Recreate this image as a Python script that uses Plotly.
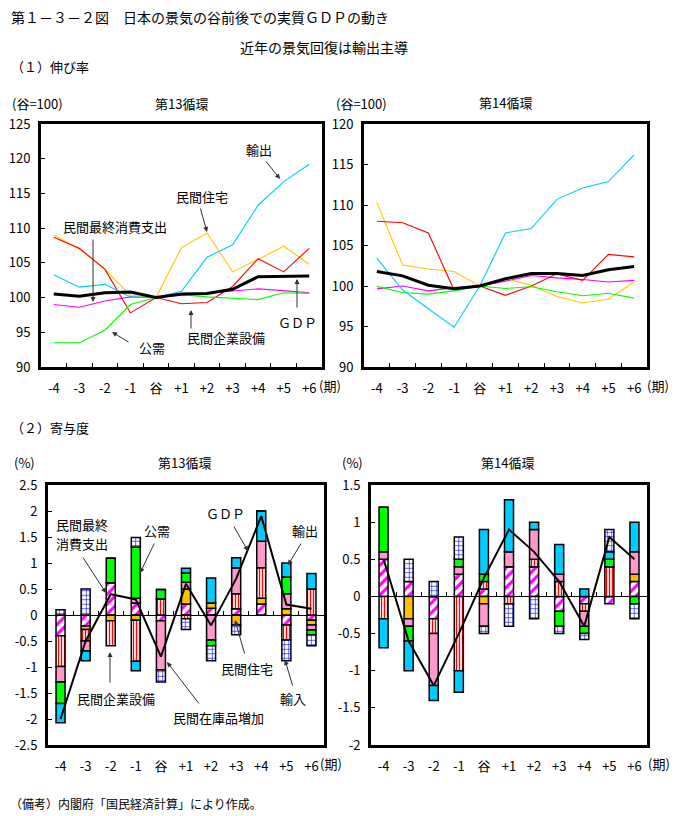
import plotly.graph_objects as go

W, H = 677, 816
OX, OY = 8, 8          # page body margin of the browser
FW, FH = W - OX, H - OY
FONT = "Noto Sans CJK JP"

categories = ["-4", "-3", "-2", "-1", "谷", "+1", "+2", "+3", "+4", "+5", "+6"]

# (1) growth index, trough = 100 -- 13th cycle
gdp13 = [100.5, 100.2, 100.7, 100.8, 100.0, 100.5, 100.6, 101.2, 103.0, 103.0, 103.1]
cons13 = [99.0, 98.6, 99.5, 100.1, 100.0, 100.3, 100.6, 100.9, 101.25, 101.0, 100.7]
hous13 = [109.0, 107.0, 104.1, 100.3, 100.0, 107.2, 109.3, 103.7, 105.5, 107.4, 104.8]
capex13 = [108.7, 107.1, 104.1, 97.8, 100.0, 99.1, 99.3, 101.6, 105.6, 103.7, 107.1]
pub13 = [93.5, 93.5, 95.3, 99.0, 100.0, 100.4, 100.1, 99.9, 99.7, 100.7, 100.6]
exp13 = [103.3, 101.5, 101.9, 100.1, 100.0, 100.9, 105.8, 107.6, 113.3, 116.7, 119.2]

# (1) growth index -- 14th cycle
gdp14 = [101.8, 101.25, 100.1, 99.65, 100.0, 100.9, 101.55, 101.55, 101.3, 102.0, 102.4]
cons14 = [99.65, 100.0, 99.4, 99.8, 100.0, 100.6, 101.3, 101.0, 100.8, 100.5, 100.7]
hous14 = [110.3, 102.6, 102.1, 101.8, 100.0, 100.9, 100.1, 98.7, 97.9, 98.4, 100.5]
capex14 = [108.0, 107.8, 106.55, 99.5, 100.0, 98.85, 100.0, 101.5, 100.7, 103.9, 103.6]
pub14 = [99.95, 99.2, 99.0, 99.4, 100.0, 99.7, 99.9, 99.3, 98.8, 99.1, 98.5]
exp14 = [103.45, 99.5, 97.2, 94.9, 100.0, 106.55, 107.1, 110.7, 112.1, 112.9, 116.2]

# (2) contributions (%) -- 13th cycle
c_cons13 = [-0.40, -0.21, 0.62, 0.23, -0.11, 0.21, 0.13, 0.12, 0.21, -0.19, -0.10]
c_hous13 = [0.0, -0.07, -0.11, -0.10, 0.0, 0.29, 0.10, -0.19, 0.11, 0.12, -0.09]
c_capex13 = [-0.59, -0.22, -0.48, -0.79, 0.31, -0.07, 0.0, 0.29, 0.59, -0.29, 0.50]
c_stock13 = [-0.30, -0.19, 0.0, 0.09, -0.95, 0.13, -0.48, 0.50, 0.51, 0.29, -0.10]
c_pub13 = [-0.41, 0.0, 0.47, 0.99, 0.18, 0.18, -0.11, 0.0, 0.0, 0.32, -0.09]
c_exp13 = [-0.37, -0.19, 0.0, -0.18, 0.0, 0.09, 0.48, 0.19, 0.58, 0.27, 0.30]
c_imp13 = [0.10, 0.50, 0.0, 0.18, -0.23, -0.21, -0.29, -0.19, 0.0, -0.40, -0.21]
c_gdp13 = [-2.0, -0.5, 0.4, 0.3, -0.8, 0.6, -0.2, 0.7, 1.9, 0.2, 0.12]

# (2) contributions (%) -- 14th cycle
c_cons14 = [0.5, 0.2, -0.3, 0.3, 0.1, 0.4, 0.4, -0.2, -0.1, -0.1, 0.2]
c_hous14 = [0.0, -0.3, 0.0, 0.0, -0.1, 0.0, 0.0, 0.0, 0.0, 0.0, 0.1]
c_capex14 = [-0.3, 0.0, -0.2, -1.0, 0.1, -0.1, 0.1, 0.2, -0.1, 0.4, 0.0]
c_stock14 = [0.1, -0.1, -0.7, 0.1, -0.3, 0.2, 0.4, 0.1, -0.2, 0.0, 0.3]
c_pub14 = [0.6, -0.2, 0.0, 0.1, 0.1, 0.0, 0.0, -0.2, -0.1, 0.1, -0.1]
c_exp14 = [-0.39, -0.4, -0.2, -0.29, 0.6, 0.7, 0.1, 0.4, 0.1, 0.1, 0.4]
c_imp14 = [0.0, 0.3, 0.2, 0.3, -0.1, -0.3, -0.3, -0.1, -0.08, 0.3, -0.2]
c_gdp14 = [0.5, -0.6, -1.2, -0.5, 0.25, 0.9, 0.6, 0.2, -0.4, 0.8, 0.5]

ytick13_top = [90, 95, 100, 105, 110, 115, 120, 125]
ytick14_top = [90, 95, 100, 105, 110, 115, 120]
ytick13_bot = [-2.5, -2, -1.5, -1, -0.5, 0, 0.5, 1, 1.5, 2, 2.5]
ytick14_bot = [-2, -1.5, -1, -0.5, 0, 0.5, 1, 1.5]


def lab(v):
    return ("%g" % v)


def px(x):
    return (x - OX) / FW


def py(y):
    return 1 - (y - OY) / FH


fig = go.Figure()

# ---- line charts ----
line_colors = {
    "cons": "#FF00FF", "hous": "#FFC800", "capex": "#FF0000",
    "pub": "#00FF00", "exp": "#00CCFF", "gdp": "#000000",
}
for (xa, ya), series in [
    (("x", "y"), [("民間最終消費支出", cons13, "cons"), ("民間住宅", hous13, "hous"),
                  ("民間企業設備", capex13, "capex"), ("公需", pub13, "pub"),
                  ("輸出", exp13, "exp"), ("GDP", gdp13, "gdp")]),
    (("x2", "y2"), [("民間最終消費支出", cons14, "cons"), ("民間住宅", hous14, "hous"),
                    ("民間企業設備", capex14, "capex"), ("公需", pub14, "pub"),
                    ("輸出", exp14, "exp"), ("GDP", gdp14, "gdp")]),
]:
    for name, vals, key in series:
        fig.add_trace(go.Scatter(
            x=categories, y=vals, mode="lines", name=name,
            line=dict(color=line_colors[key], width=3 if key == "gdp" else 1.1),
            xaxis=xa, yaxis=ya, showlegend=False))

# ---- bar charts ----
bar_styles = [
    ("民間最終消費支出", dict(color="white", pattern=dict(shape="/", fgcolor="#FF00FF", bgcolor="white", size=7, solidity=0.45, fillmode="replace"))),
    ("民間住宅", dict(color="#FFC000")),
    ("民間企業設備", dict(color="white", pattern=dict(shape="|", fgcolor="#FF0000", bgcolor="white", size=3, solidity=0.45, fillmode="replace"))),
    ("民間在庫品増加", dict(color="#FF99CC")),
    ("公需", dict(color="#00FF00")),
    ("輸出", dict(color="#00CCFF")),
    ("輸入", dict(color="white", pattern=dict(shape="+", fgcolor="#0000FF", bgcolor="white", size=4.5, solidity=0.25, fillmode="replace"))),
]
for (xa, ya, xo), comps, gdp in [
    (("x3", "y3", "x5"), [c_cons13, c_hous13, c_capex13, c_stock13, c_pub13, c_exp13, c_imp13], c_gdp13),
    (("x4", "y4", "x6"), [c_cons14, c_hous14, c_capex14, c_stock14, c_pub14, c_exp14, c_imp14], c_gdp14),
]:
    for (name, mk), vals in zip(bar_styles, comps):
        m = dict(mk)
        m["line"] = dict(color="black", width=1.5)
        fig.add_trace(go.Bar(x=categories, y=vals, name=name, marker=m,
                             xaxis=xa, yaxis=ya, showlegend=False))
    fig.add_trace(go.Scatter(x=categories, y=gdp, mode="lines", name="GDP",
                             line=dict(color="black", width=2),
                             xaxis=xo, yaxis=ya, showlegend=False))

tickfont = dict(family=FONT, size=13, color="black")


def xaxis(dom):
    return dict(domain=dom, type="category", range=[-0.5, 10.5], automargin=False,
                showline=True, linewidth=3, linecolor="black", mirror=True,
                ticks="inside", tickson="boundaries", ticklen=4, tickcolor="black",
                tickfont=tickfont, showgrid=False, zeroline=False,
                ticklabelstandoff=7, fixedrange=True)


def yaxis(dom, rng, tv, anchor):
    return dict(domain=dom, range=rng, tickvals=tv, ticktext=[lab(v) for v in tv],
                automargin=False,
                showline=True, linewidth=3, linecolor="black", mirror=True,
                ticks="inside", ticklen=4, tickcolor="black", tickfont=tickfont,
                showgrid=False, zeroline=False, anchor=anchor, ticklabelstandoff=5)


dom_top_y = [py(367), py(124)]
dom_bot_y = [py(745), py(485)]
dx1 = [px(41), px(322)]
dx2 = [px(364), px(647)]
dx3 = [px(48), px(324)]
dx4 = [px(371), px(647)]

xa3 = xaxis(dx3)
xa3["ticks"] = ""
xa4 = xaxis(dx4)
xa4["ticks"] = ""


def zero_pos(dom, rng):
    return dom[0] + (0 - rng[0]) / (rng[1] - rng[0]) * (dom[1] - dom[0])


r3 = [-2.5, 2.5]
r4 = [-2, 1.5]


def zero_axis(over, rng):
    return dict(overlaying=over, anchor="free", position=zero_pos(dom_bot_y, rng),
                type="category", range=[-0.5, 10.5], showline=True, linewidth=1,
                linecolor="black", ticks="inside", tickson="boundaries", ticklen=4,
                tickcolor="black", showticklabels=False, showgrid=False, zeroline=False,
                automargin=False)


fig.update_layout(
    width=FW, height=FH, margin=dict(l=0, r=0, t=0, b=0, pad=0, autoexpand=False),
    autosize=False,
    paper_bgcolor="white", plot_bgcolor="white",
    barmode="relative", bargap=0.64, showlegend=False,
    font=dict(family=FONT, size=13, color="black"),
    xaxis=dict(xaxis(dx1), anchor="y"),
    yaxis=yaxis(dom_top_y, [90, 125], ytick13_top, "x"),
    xaxis2=dict(xaxis(dx2), anchor="y2"),
    yaxis2=yaxis(dom_top_y, [90, 120], ytick14_top, "x2"),
    xaxis3=dict(xa3, anchor="y3"),
    yaxis3=yaxis(dom_bot_y, r3, ytick13_bot, "x3"),
    xaxis4=dict(xa4, anchor="y4"),
    yaxis4=yaxis(dom_bot_y, r4, ytick14_bot, "x4"),
    xaxis5=zero_axis("x3", r3),
    xaxis6=zero_axis("x4", r4),
)

anns = []


def text(t, x, y, size=13, xanchor="center"):
    anns.append(dict(text=t, x=px(x), y=py(y), xref="paper", yref="paper",
                     showarrow=False, xanchor=xanchor, yanchor="middle",
                     font=dict(family=FONT, size=size, color="black")))


def arrow(x0, y0, x1, y1):
    anns.append(dict(text="", x=px(x1), y=py(y1), xref="paper", yref="paper",
                     ax=x0 - x1, ay=y0 - y1, showarrow=True, arrowhead=2,
                     arrowsize=1, arrowwidth=1, arrowcolor="#303030"))


text("第１－３－２図　日本の景気の谷前後での実質ＧＤＰの動き", 9, 17, 14, "left")
text("近年の景気回復は輸出主導", 324, 47, 14)
text("（１）伸び率", 9, 67, 13, "left")
text("（２）寄与度", 9, 427, 13, "left")
text("（備考）内閣府「国民経済計算」により作成。", 8, 803, 12, "left")

# panel headers
text("(谷=100)", 10, 103, 13, "left")
text("第13循環", 181, 103, 13)
text("(谷=100)", 334, 103, 13, "left")
text("第14循環", 505, 102, 13)
text("(%)", 12, 463, 13, "left")
text("第13循環", 184, 463, 13)
text("(%)", 340, 463, 13, "left")
text("第14循環", 507, 463, 13)

# (期)
for x, y in [(330, 385), (658, 385), (331, 763), (659, 763)]:
    text("(期)", x, y, 13)

# top-left annotations
text("輸出", 259, 150)
arrow(265, 160, 280, 179)
text("民間住宅", 202, 196)
arrow(200, 207, 207, 232)
text("民間最終消費支出", 115, 226)
arrow(93, 238, 93, 302)
text("公需", 152, 347)
arrow(130, 343, 112, 332)
text("民間企業設備", 226, 338)
arrow(191, 330, 191, 310)
text("ＧＤＰ", 297, 322)
arrow(297, 309, 297, 279)

# bottom-left annotations
text("民間最終", 82, 524)
text("消費支出", 82, 543)
arrow(82, 556, 106, 593)
text("公需", 157, 530)
arrow(155, 542, 140, 573)
text("ＧＤＰ", 225, 513)
arrow(233, 525, 248, 551)
text("輸出", 305, 530)
arrow(302, 542, 288, 565)
text("民間企業設備", 116, 698)
arrow(110, 684, 110, 652)
text("民間在庫品増加", 218, 717)
arrow(200, 705, 167, 662)
text("民間住宅", 247, 668)
arrow(245, 655, 235, 620)
text("輸入", 293, 698)
arrow(293, 687, 285, 660)

fig.update_layout(annotations=anns)

fig.write_html("out.html")
